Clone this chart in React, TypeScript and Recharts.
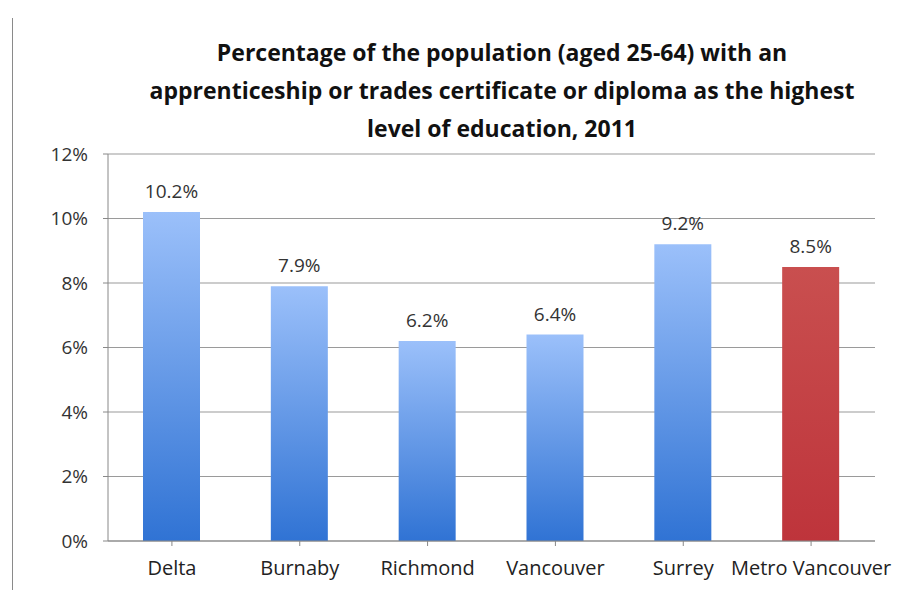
import React from 'react';
import {
  BarChart,
  Bar,
  XAxis,
  YAxis,
  CartesianGrid,
  Cell,
  LabelList,
} from 'recharts';

const regions = ['Delta', 'Burnaby', 'Richmond', 'Vancouver', 'Surrey', 'Metro Vancouver'];
const shares = [10.2, 7.9, 6.2, 6.4, 9.2, 8.5];
const yTicks = [0, 2, 4, 6, 8, 10, 12];

const data = regions.map((name, i) => ({ name, value: shares[i] }));

const titleLines = [
  'Percentage of the population (aged 25-64) with an',
  'apprenticeship or trades certificate or diploma as the highest',
  'level of education, 2011',
];

export default function App() {
  return (
    <div
      style={{
        position: 'absolute',
        left: 0,
        top: 0,
        width: 917,
        height: 590,
        background: '#fff',
        fontFamily: '"Open Sans", sans-serif',
      }}
    >
      <div
        style={{
          position: 'absolute',
          left: 12,
          top: 18,
          width: 1,
          height: 572,
          background: '#8a8a8a',
        }}
      />
      <div
        style={{
          position: 'absolute',
          left: 0,
          top: 33,
          width: 1004,
          textAlign: 'center',
          fontWeight: 'bold',
          fontSize: 23,
          lineHeight: '38px',
          color: '#111',
        }}
      >
        {titleLines.map((t) => (
          <div key={t}>{t}</div>
        ))}
      </div>
      <BarChart
        width={917}
        height={590}
        data={data}
        margin={{ top: 154, right: 42, bottom: 0, left: 0 }}
        barSize={57}
        style={{ position: 'absolute', left: 0, top: 0 }}
      >
        <defs>
          <linearGradient id="blueGrad" x1="0" y1="0" x2="0" y2="1">
            <stop offset="0%" stopColor="#9bc0fa" />
            <stop offset="100%" stopColor="#3073d4" />
          </linearGradient>
          <linearGradient id="redGrad" x1="0" y1="0" x2="0" y2="1">
            <stop offset="0%" stopColor="#c94f4f" />
            <stop offset="100%" stopColor="#be343b" />
          </linearGradient>
        </defs>
        <CartesianGrid vertical={false} stroke="#9a9a9a" strokeWidth={1.2} />
        <XAxis
          dataKey="name"
          height={49}
          interval={0}
          stroke="#888"
          tickSize={5}
          tickMargin={15}
          tick={{ fill: '#222', fontSize: 20 }}
        />
        <YAxis
          width={108}
          domain={[0, 12]}
          ticks={yTicks}
          stroke="#888"
          tickSize={5}
          tickMargin={15}
          tickFormatter={(v: number) => `${v}%`}
          tick={{ fill: '#333', fontSize: 19 }}
        />
        <Bar dataKey="value" isAnimationActive={false}>
          {data.map((d, i) => (
            <Cell
              key={d.name}
              fill={i === data.length - 1 ? 'url(#redGrad)' : 'url(#blueGrad)'}
            />
          ))}
          <LabelList
            dataKey="value"
            position="top"
            offset={14}
            formatter={(v: number) => `${v.toFixed(1)}%`}
            style={{ fill: '#333', fontSize: 19 }}
          />
        </Bar>
      </BarChart>
    </div>
  );
}
